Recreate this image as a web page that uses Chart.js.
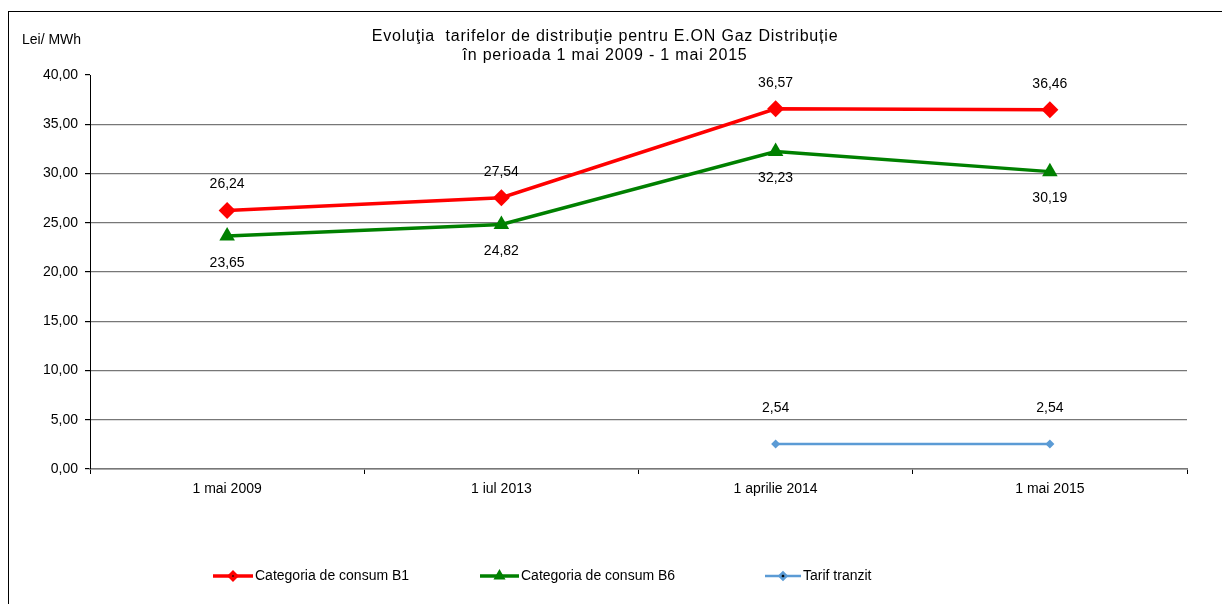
<!DOCTYPE html>
<html>
<head>
<meta charset="utf-8">
<script src="https://cdn.jsdelivr.net/npm/chart.js@4.4.1/dist/chart.umd.min.js"></script>
<style>
  html, body { margin: 0; padding: 0; background: #fff; overflow: hidden; }
  #wrap { position: relative; width: 1222px; height: 604px; }
  #frame { position: absolute; left: 8px; top: 11px; width: 1400px; height: 800px; border: 1px solid #000; }
  canvas { position: absolute; left: 0; top: 0; }
</style>
</head>
<body>
<div id="wrap">
  <div id="frame"></div>
  <canvas id="chart" width="1222" height="604"></canvas>
</div>
<script>
const categories = ['1 mai 2009', '1 iul 2013', '1 aprilie 2014', '1 mai 2015']
const seriesB1 = [26.24, 27.54, 36.57, 36.46]
const seriesB6 = [23.65, 24.82, 32.23, 30.19]
const seriesTranzit = [null, null, 2.54, 2.54]
const seriesNames = ['Categoria de consum B1', 'Categoria de consum B6', 'Tarif tranzit']
const titleLines = ['Evoluţia  tarifelor de distribuţie pentru E.ON Gaz Distribuție', 'în perioada 1 mai 2009 - 1 mai 2015']
const unitLabel = 'Lei/ MWh'

const FONT = '"Liberation Sans", Arial, sans-serif'
const fmt = v => v.toFixed(2).replace('.', ',')

// etichete de valori, titlu, legenda
const extras = {
  id: 'extras',
  afterDatasetsDraw(chart) {
    const ctx = chart.ctx
    ctx.save()
    ctx.fillStyle = '#000'
    ctx.font = '14px ' + FONT
    ctx.textAlign = 'center'
    ctx.textBaseline = 'middle'
    const offsets = [-26, 27, -36]
    chart.data.datasets.forEach((ds, i) => {
      const meta = chart.getDatasetMeta(i)
      meta.data.forEach((pt, j) => {
        if (ds.data[j] == null) return
        ctx.fillText(fmt(ds.data[j]), pt.x, pt.y + offsets[i])
      })
    })

    // titlu
    ctx.font = '16px ' + FONT
    ctx.letterSpacing = '0.8px'
    ctx.fillText(titleLines[0], 605, 37)
    ctx.fillText(titleLines[1], 605, 56)
    ctx.letterSpacing = '0px'

    // unitate
    ctx.font = '14px ' + FONT
    ctx.textAlign = 'left'
    ctx.fillText(unitLabel, 22, 40)

    // legenda
    const items = [
      { x: 213, w: 40, ds: chart.data.datasets[0] },
      { x: 480, w: 39, ds: chart.data.datasets[1] },
      { x: 765, w: 36, ds: chart.data.datasets[2] }
    ]
    const ly = 576
    items.forEach(it => {
      ctx.strokeStyle = it.ds.borderColor
      ctx.lineWidth = it.ds.borderWidth
      ctx.beginPath()
      ctx.moveTo(it.x, ly)
      ctx.lineTo(it.x + it.w, ly)
      ctx.stroke()
      Chart.helpers.drawPoint(ctx, {
        pointStyle: it.ds.pointStyle, radius: 3.5, borderWidth: 1
      }, it.x + it.w / 2, ly)
      ctx.fillStyle = '#000'
      ctx.fillText(it.ds.label, it.x + it.w + 2, ly)
    })
    ctx.restore()
  }
}

const chart = new Chart(document.getElementById('chart'), {
  type: 'line',
  data: {
    labels: categories,
    datasets: [
      {
        label: seriesNames[0],
        data: seriesB1,
        borderColor: '#ff0000',
        backgroundColor: '#ff0000',
        borderWidth: 3.5,
        pointStyle: 'rectRot',
        pointRadius: 8.5,
        pointBorderWidth: 0
      },
      {
        label: seriesNames[1],
        data: seriesB6,
        borderColor: '#008000',
        backgroundColor: '#008000',
        borderWidth: 3.5,
        pointStyle: 'triangle',
        pointRadius: 9,
        pointBorderWidth: 0
      },
      {
        label: seriesNames[2],
        data: seriesTranzit,
        borderColor: '#5b9bd5',
        backgroundColor: '#5b9bd5',
        borderWidth: 2.5,
        pointStyle: 'rectRot',
        pointRadius: 4.5,
        pointBorderWidth: 0
      }
    ]
  },
  options: {
    responsive: false,
    animation: false,
    layout: { padding: { top: 75, right: 35, left: 0, bottom: 0 } },
    plugins: {
      legend: { display: false },
      title: { display: false },
      tooltip: { enabled: false }
    },
    scales: {
      x: {
        offset: true,
        afterFit: s => { s.height = 135 },
        grid: {
          offset: true,
          drawOnChartArea: false,
          drawTicks: true,
          tickLength: 5,
          tickColor: '#000'
        },
        border: { color: '#777', width: 1.5 },
        ticks: {
          color: '#000',
          font: { family: FONT, size: 14 },
          padding: 7
        }
      },
      y: {
        min: 0,
        max: 40,
        afterFit: s => { s.width = 90 },
        grid: {
          color: c => c.tick && c.tick.value === 40 ? 'rgba(0,0,0,0)' : '#777',
          lineWidth: 1.2,
          tickLength: 5,
          tickColor: '#000'
        },
        border: { color: '#000', width: 1 },
        ticks: {
          stepSize: 5,
          color: '#000',
          font: { family: FONT, size: 14 },
          padding: 7,
          callback: v => fmt(v)
        }
      }
    }
  },
  plugins: [extras]
})
</script>
</body>
</html>
